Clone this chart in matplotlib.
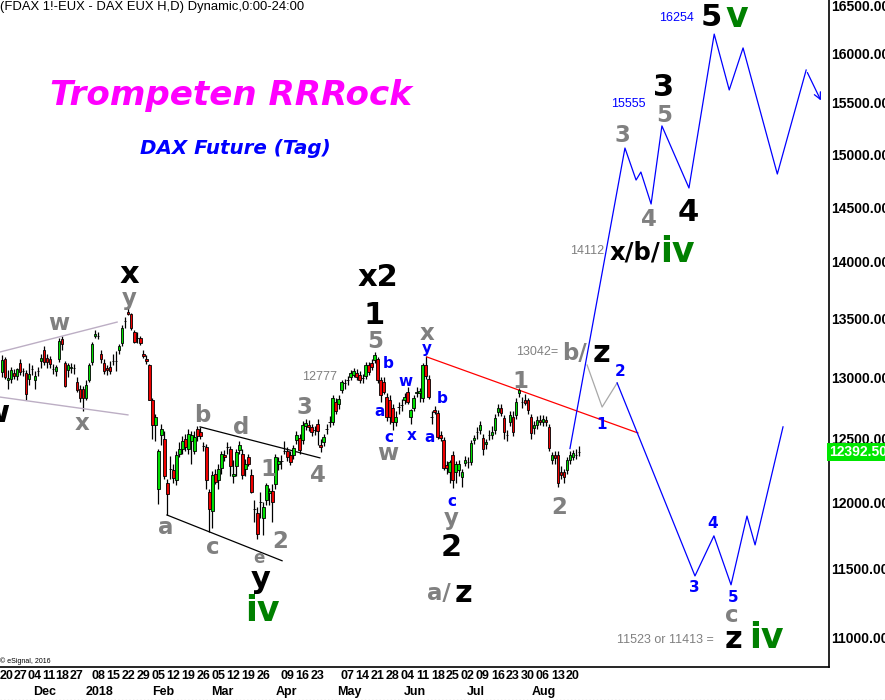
import matplotlib
matplotlib.use('Agg')
import matplotlib.pyplot as plt
import matplotlib.transforms as mtransforms
from matplotlib.ticker import NullLocator
from matplotlib.lines import Line2D

plt.rcParams['font.family'] = ['Liberation Sans', 'DejaVu Sans']

# daily FDAX candles, Nov 20 2017 .. Aug 22 2018 (bar index = trading day)
opens = [13045, 13150, 12975, 12990, 13040, 13010, 13120, 13050, 13040, 12990,
         13070, 12980, 13050, 13140, 13230, 13160, 13150, 13070, 13050, 13150,
         13320, 13120, 13060, 13080, 13080, 12960, 12900, 12900, 12830, 12980,
         13130, 13350, 13350, 13200, 13120, 13080, 13090, 13140, 13140, 13230,
         13290, 13480, 13560, 13540, 13380, 13330, 13330, 13200, 13150, 13100,
         12810, 12610, 12100, 12530, 12500, 12150, 12260, 12250, 12170, 12380,
         12420, 12500, 12420, 12480, 12400, 12580, 12550, 12440, 12430, 12080,
         11930, 12220, 12170, 12270, 12370, 12430, 12420, 12200, 12280, 12410,
         12380, 12260, 12350, 12210, 11950, 11920, 12000, 11880, 12020, 12070,
         12090, 12140, 12300, 12320, 12400, 12400, 12370, 12370, 12490, 12505,
         12490, 12600, 12610, 12590, 12570, 12620, 12450, 12470, 12580, 12630,
         12630, 12800, 12780, 12895, 12950, 12980, 13000, 13020, 13040, 13020,
         12995, 13010, 13100, 13120, 13146, 13150, 12980, 12960, 12840, 12810,
         12750, 12630, 12755, 12770, 12810, 12880, 12670, 12750, 12870, 12870,
         12830, 13100, 12990, 12675, 12730, 12710, 12530, 12490, 12290, 12235,
         12370, 12235, 12250, 12195, 12305, 12310, 12310, 12490, 12550, 12570,
         12505, 12460, 12530, 12530, 12570, 12715, 12750, 12665, 12530, 12635,
         12675, 12690, 12870, 12795, 12810, 12810, 12675, 12585, 12610, 12650,
         12630, 12650, 12590, 12330, 12370, 12370, 12235, 12235, 12250, 12330,
         12355, 12370, 12390]
highs = [13190, 13170, 13060, 13090, 13070, 13080, 13150, 13080, 13060, 13120,
         13100, 13050, 13090, 13200, 13260, 13200, 13180, 13110, 13100, 13330,
         13350, 13140, 13120, 13120, 13110, 13000, 12940, 12930, 12980, 13120,
         13300, 13400, 13380, 13230, 13150, 13100, 13140, 13200, 13220, 13280,
         13440, 13510, 13600, 13550, 13400, 13380, 13350, 13230, 13190, 13110,
         12830, 12700, 12420, 12620, 12560, 12180, 12360, 12300, 12400, 12470,
         12520, 12540, 12580, 12560, 12560, 12600, 12590, 12470, 12460, 12100,
         12240, 12260, 12300, 12400, 12410, 12470, 12440, 12330, 12420, 12480,
         12420, 12340, 12380, 12260, 12020, 11960, 12080, 12000, 12150, 12110,
         12140, 12380, 12350, 12370, 12480, 12430, 12400, 12450, 12560, 12540,
         12640, 12660, 12650, 12620, 12600, 12660, 12500, 12540, 12620, 12680,
         12850, 12830, 12850, 12980, 12990, 13010, 13060, 13080, 13070, 13050,
         13030, 13130, 13130, 13150, 13210, 13170, 13000, 13000, 12870, 12850,
         12780, 12720, 12800, 12820, 12870, 12920, 12740, 12850, 12920, 12910,
         13120, 13180, 13020, 12720, 12760, 12730, 12560, 12510, 12320, 12330,
         12400, 12320, 12330, 12260, 12360, 12350, 12490, 12530, 12590, 12640,
         12540, 12500, 12570, 12600, 12700, 12780, 12780, 12690, 12570, 12720,
         12720, 12830, 12910, 12840, 12860, 12830, 12700, 12640, 12680, 12690,
         12690, 12680, 12620, 12390, 12400, 12400, 12280, 12260, 12350, 12400,
         12410, 12420, 12440]
lows = [13000, 12990, 12900, 12950, 12990, 12980, 13020, 13010, 12810, 12940,
        13020, 12900, 13010, 13080, 13100, 13080, 13080, 13030, 13010, 13130,
        13230, 12920, 13000, 13040, 13030, 12880, 12800, 12720, 12810, 12960,
        13100, 13330, 13320, 13120, 13030, 13020, 13030, 13100, 13050, 13200,
        13260, 13420, 13530, 13400, 13290, 13290, 13270, 13160, 13110, 12810,
        12500, 12480, 11990, 12450, 12180, 11900, 12180, 12150, 12130, 12350,
        12380, 12400, 12380, 12300, 12380, 12480, 12500, 12400, 12100, 11770,
        11800, 12140, 12100, 12220, 12320, 12380, 12200, 12150, 12200, 12380,
        12180, 12200, 12280, 12070, 11850, 11720, 11880, 11750, 11980, 11980,
        11850, 12100, 12250, 12260, 12380, 12320, 12290, 12340, 12460, 12380,
        12460, 12570, 12560, 12520, 12530, 12450, 12390, 12440, 12540, 12590,
        12610, 12700, 12740, 12870, 12900, 12940, 12980, 13000, 12980, 12950,
        12950, 12990, 13020, 13060, 13120, 12950, 12800, 12860, 12640, 12620,
        12570, 12600, 12700, 12720, 12780, 12780, 12620, 12720, 12840, 12800,
        12800, 12990, 12820, 12620, 12700, 12500, 12480, 12250, 12220, 12150,
        12110, 12150, 12200, 12120, 12280, 12270, 12290, 12460, 12500, 12540,
        12370, 12420, 12490, 12500, 12540, 12680, 12680, 12500, 12480, 12600,
        12520, 12660, 12840, 12750, 12770, 12700, 12500, 12540, 12580, 12610,
        12600, 12600, 12400, 12300, 12300, 12115, 12180, 12150, 12220, 12300,
        12330, 12340, 12360]
closes = [13146, 13000, 12995, 13060, 13010, 13070, 13045, 13055, 12860, 13030,
          13070, 13010, 13050, 13160, 13130, 13130, 13110, 13070, 13090, 13310,
          13280, 12930, 13100, 13085, 13080, 12895, 12830, 12830, 12940, 13100,
          13280, 13370, 13350, 13150, 13050, 13060, 13050, 13140, 13140, 13260,
          13420, 13480, 13540, 13420, 13300, 13330, 13290, 13180, 13140, 12810,
          12610, 12670, 12400, 12580, 12200, 12060, 12260, 12190, 12370, 12420,
          12480, 12430, 12540, 12530, 12510, 12520, 12520, 12440, 12170, 11950,
          12210, 12160, 12260, 12380, 12350, 12430, 12280, 12220, 12390, 12450,
          12210, 12300, 12300, 12080, 11950, 11760, 12000, 11960, 12130, 12090,
          12000, 12350, 12320, 12320, 12400, 12350, 12310, 12425, 12530, 12410,
          12610, 12625, 12590, 12550, 12570, 12560, 12430, 12510, 12580, 12630,
          12830, 12720, 12820, 12960, 12950, 12980, 13040, 13050, 13000, 12980,
          12995, 13105, 13045, 13090, 13190, 12980, 12855, 12880, 12670, 12670,
          12630, 12675, 12755, 12770, 12840, 12800, 12730, 12830, 12880, 12885,
          13100, 13010, 12840, 12675, 12715, 12515, 12505, 12270, 12265, 12315,
          12170, 12300, 12300, 12235, 12330, 12310, 12465, 12505, 12550, 12610,
          12420, 12470, 12530, 12555, 12665, 12750, 12710, 12555, 12530, 12690,
          12555, 12795, 12895, 12795, 12790, 12730, 12545, 12610, 12650, 12630,
          12660, 12630, 12425, 12370, 12345, 12150, 12210, 12195, 12330, 12370,
          12385, 12370, 12392.5]

last_price = 12392.5
price_ticks = list(range(11000, 16501, 500))

day_labels = ['20', '27', '04', '11', '18', '27', '08', '15', '22', '29', '05', '12', '19',
              '26', '05', '12', '19', '26', '09', '16', '23', '07', '14', '21', '28', '04',
              '11', '18', '25', '02', '09', '16', '23', '30', '06', '13', '20']
day_bars = [1.6, 6.3, 10.85, 15.5, 20.1, 24.7, 32, 37, 42, 47, 52, 57, 62, 67, 72, 77, 82,
            87, 95, 100, 105, 115, 120, 125, 130, 135, 140, 145, 150, 155, 160, 165, 170,
            175, 180, 185, 190]
month_labels = ['Dec', '2018', 'Feb', 'Mar', 'Apr', 'May', 'Jun', 'Jul', 'Aug']
month_bars = [14.3, 32.6, 53.6, 73.2, 94.8, 115.5, 137.4, 157.7, 180.4]

# projected paths
up_bars = [189, 207.3, 211, 212.6, 216, 219.6, 228.6, 237, 242, 246.6, 258, 267.6]
up_prices = [12420, 15059, 14753, 14829, 14528, 15274, 14678, 16200, 15630, 16057, 14810, 15831]
arrow_end = (272.9, 15500)
alt_bars = [194.7, 199.7, 204.7]
alt_prices = [13104, 12755, 12954]
down_bars = [204.7, 230.6, 236.9, 242.6, 247.9, 250.6, 259.9]
down_prices = [12954, 11446, 11744, 11381, 11894, 11676, 12594]

# trend lines
red_bars, red_prices = [141.4, 211.6], [13171, 12545]
tri_top_bars, tri_top_prices = [65.9, 105.8], [12594, 12346]
tri_bot_bars, tri_bot_prices = [54.9, 93.2], [11902, 11558]
chan_top_bars, chan_top_prices = [-0.7, 38.3], [13213, 13469]
chan_bot_bars, chan_bot_prices = [-0.7, 41.9], [12837, 12691]

W, H = 885, 700
fig = plt.figure(figsize=(W / 100, H / 100), dpi=100)
ax = fig.add_axes([0, 33 / H, 829 / W, 667 / H])
ax.set_yscale('log')
ax.set_ylim(10797, 16558)
ax.set_xlim(-0.666, 275.2)

for s in ['left', 'top']:
    ax.spines[s].set_visible(False)
for s in ['right', 'bottom']:
    ax.spines[s].set_linewidth(1.2)

xs = list(range(len(closes)))
ax.vlines(xs, lows, highs, color='black', lw=0.9, zorder=2)
body_col = ['#00dd00' if c > o else '#ee0000' for o, c in zip(opens, closes)]
ax.bar(xs, [c - o for o, c in zip(opens, closes)], bottom=opens, width=0.85,
       color=body_col, edgecolor='black', linewidth=0.6, zorder=3)

ax.plot(chan_top_bars, chan_top_prices, color='#bcaec4', lw=1)
ax.plot(chan_bot_bars, chan_bot_prices, color='#bcaec4', lw=1)
ax.plot(tri_top_bars, tri_top_prices, color='black', lw=0.9)
ax.plot(tri_bot_bars, tri_bot_prices, color='black', lw=0.9)
ax.plot(red_bars, red_prices, color='red', lw=0.9)
ax.plot(up_bars, up_prices, color='blue', lw=0.9)
ax.annotate('', xy=arrow_end, xytext=(up_bars[-1], up_prices[-1]),
            arrowprops=dict(arrowstyle='->', color='blue', lw=0.9, mutation_scale=12))
ax.plot(alt_bars, alt_prices, color='#a8a8a8', lw=0.9)
ax.plot(down_bars, down_prices, color='blue', lw=0.9)

ax.yaxis.tick_right()
ax.set_yticks(price_ticks, ['%.2f' % p for p in price_ticks], fontsize=10, fontweight='bold')
ax.yaxis.set_minor_locator(NullLocator())
ax.tick_params(axis='y', length=0, pad=1.5)
ax.set_xticks([])

ax.text(1.0, last_price, '12392.50', transform=ax.get_yaxis_transform(), ha='left',
        va='center', color='white', fontsize=10, fontweight='bold', clip_on=False,
        bbox=dict(boxstyle='square,pad=0.12', fc='#00e600', ec='none'))

xf = mtransforms.blended_transform_factory(ax.transData, fig.transFigure)
for b, s in zip(day_bars, day_labels):
    ax.text(b, 1 - 676 / H, s, transform=xf, ha='center', va='center',
            fontsize=9, fontweight='bold', clip_on=False)
for b, s in zip(month_bars, month_labels):
    ax.text(b, 1 - 692 / H, s, transform=xf, ha='center', va='center',
            fontsize=9, fontweight='bold', clip_on=False)


def put(px, py, s, color, size, family='DejaVu Sans', weight='bold', ha='center', **kw):
    fig.text(px / W, 1 - py / H, s, color=color, fontsize=size, family=family,
             fontweight=weight, ha=ha, va='center', **kw)


gray = '#808080'
for px, py, s in [(59, 323, 'w'), (129, 298, 'y'), (82, 423, 'x'), (202, 415, 'b'),
                  (241, 428, 'd'), (166, 527, 'a'), (213, 547, 'c'), (268, 470, '1'),
                  (280, 542, '2'), (304, 407, '3'), (318, 476, '4'), (375, 342, '5'),
                  (388, 453, 'w'), (427, 333, 'x'), (451, 519, 'y'), (520, 381, '1'),
                  (559, 508, '2'), (622, 136, '3'), (649, 220, '4'), (664, 115, '5'),
                  (732, 615, 'c'), (575, 353, 'b/'), (439, 594, 'a/')]:
    put(px, py, s, gray, 16.5)
put(259, 558, 'e', gray, 12)

for px, py, s in [(129, 275, 'x'), (378, 278, 'x2'), (374, 316, '1'), (451, 547, '2'),
                  (261, 579, 'y'), (664, 88, '3'), (688, 212, '4'), (711, 18, '5'),
                  (734, 640, 'z'), (602, 354, 'z'), (464, 594, 'z'), (-4, 414, 'w')]:
    put(px, py, s, 'black', 22)
put(635, 253, 'x/b/', 'black', 17.5)

for px, py, s in [(262, 611, 'iv'), (677, 252, 'iv'), (737, 17, 'v'), (766, 638, 'iv')]:
    put(px, py, s, '#008000', 25)

for px, py, s in [(388, 363, 'b'), (406, 381, 'w'), (380, 412, 'a'), (389, 438, 'c'),
                  (412, 436, 'x'), (427, 348, 'y'), (442, 399, 'b'), (430, 438, 'a'),
                  (452, 502, 'c'), (602, 424, '1'), (620, 371, '2'), (694, 588, '3'),
                  (713, 524, '4'), (733, 598, '5')]:
    put(px, py, s, 'blue', 11)

for px, py, s, c in [(320, 377, '12777', gray), (537, 352, '13042=', gray),
                     (587, 251, '14112', gray), (628, 104, '15555', 'blue'),
                     (676, 18, '16254', 'blue'), (665, 640, '11523 or 11413 =', gray)]:
    put(px, py, s, c, 9, family='Liberation Sans', weight='normal')

put(0, 7, '(FDAX 1!-EUX - DAX EUX H,D) Dynamic,0:00-24:00', 'black', 9.4,
    family='Liberation Sans', weight='normal', ha='left')
put(50, 96, 'Trompeten RRRock', '#ff00ff', 24.6, style='italic', ha='left')
put(140, 148, 'DAX Future (Tag)', 'blue', 14.3, style='italic', ha='left')
put(0, 661, '\u00a9 eSignal, 2016', 'black', 5, family='Liberation Sans', weight='normal', ha='left')

fig.add_artist(Line2D([0, 1], [0.5 / H, 0.5 / H], transform=fig.transFigure,
                      color='#c8c8c8', lw=1, ls=':'))

fig.savefig('out.png', dpi=100)
